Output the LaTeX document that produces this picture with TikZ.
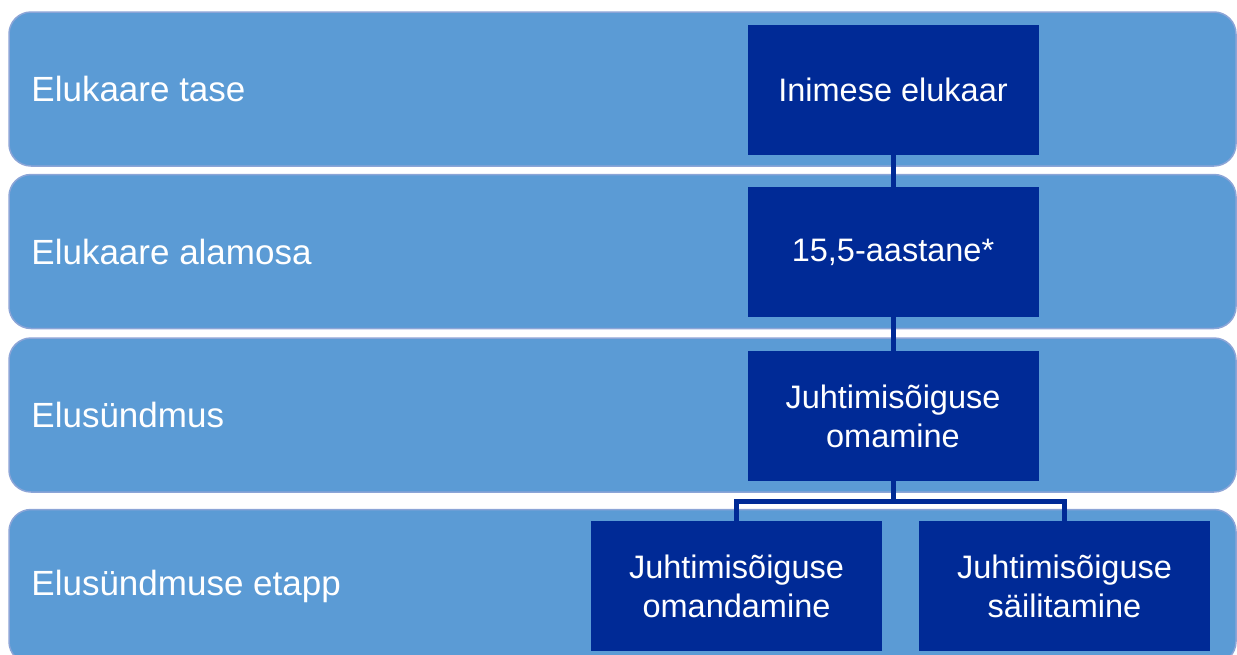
\documentclass[tikz,border=0pt]{standalone}
\usepackage{fontspec}
\setmainfont{Liberation Sans}
\usetikzlibrary{positioning}
\definecolor{bandblue}{RGB}{91,155,213}
\definecolor{bandedge}{RGB}{140,165,215}
\definecolor{navy}{RGB}{0,42,150}

\begin{document}
\begin{tikzpicture}[x=1pt, y=-1pt,
    band/.style={draw=bandedge, line width=1.5pt, fill=bandblue, rounded corners=22pt, minimum width=1227pt, minimum height=154pt},
    level/.style={inner sep=0pt, text=white, font=\fontsize{35}{42}\selectfont},
    box/.style={fill=navy, text=white, minimum width=291pt, minimum height=130pt, inner sep=0pt, align=center, font=\fontsize{32.5}{39}\selectfont},
    link/.style={draw=navy, line width=5pt}]
        \useasboundingbox (0,0) rectangle (1237,654);
        \clip (0,0) rectangle (1237,654);

        % Bands
        \node (band1) [band] at (622.5,89) {};
        \node (band2) [band] at (622.5,251.5) {};
        \node (band3) [band] at (622.5,415) {};
        \node (band4) [band] at (622.5,586.5) {};

        % Levels
        \node (lev1) [level, right=23pt of band1.west] {Elukaare tase};
        \node (lev2) [level, right=23pt of band2.west] {Elukaare alamosa};
        \node (lev3) [level, right=23pt of band3.west] {Elusündmus};
        \node (lev4) [level, right=23pt of band4.west] {Elusündmuse etapp};

        % Nodes
        \node (Life) [box] at (893,89.5) {Inimese elukaar};
        \node (Age) [box] at (893,252) {15,5-aastane*};
        \node (Event) [box] at (893,416) {Juhtimisõiguse\\omamine};
        \node (Gain) [box] at (736.5,586) {Juhtimisõiguse\\omandamine};
        \node (Keep) [box] at (1064.5,586) {Juhtimisõiguse\\säilitamine};

        % Connectors
        \coordinate (fork) at (893,501);
        \draw[link] (Life) -- (Age);
        \draw[link] (Age) -- (Event);
        \draw[link] (Event) -- (fork);
        \draw[link] (Gain.north) |- (fork) -| (Keep.north);
    \end{tikzpicture}
\end{document}
